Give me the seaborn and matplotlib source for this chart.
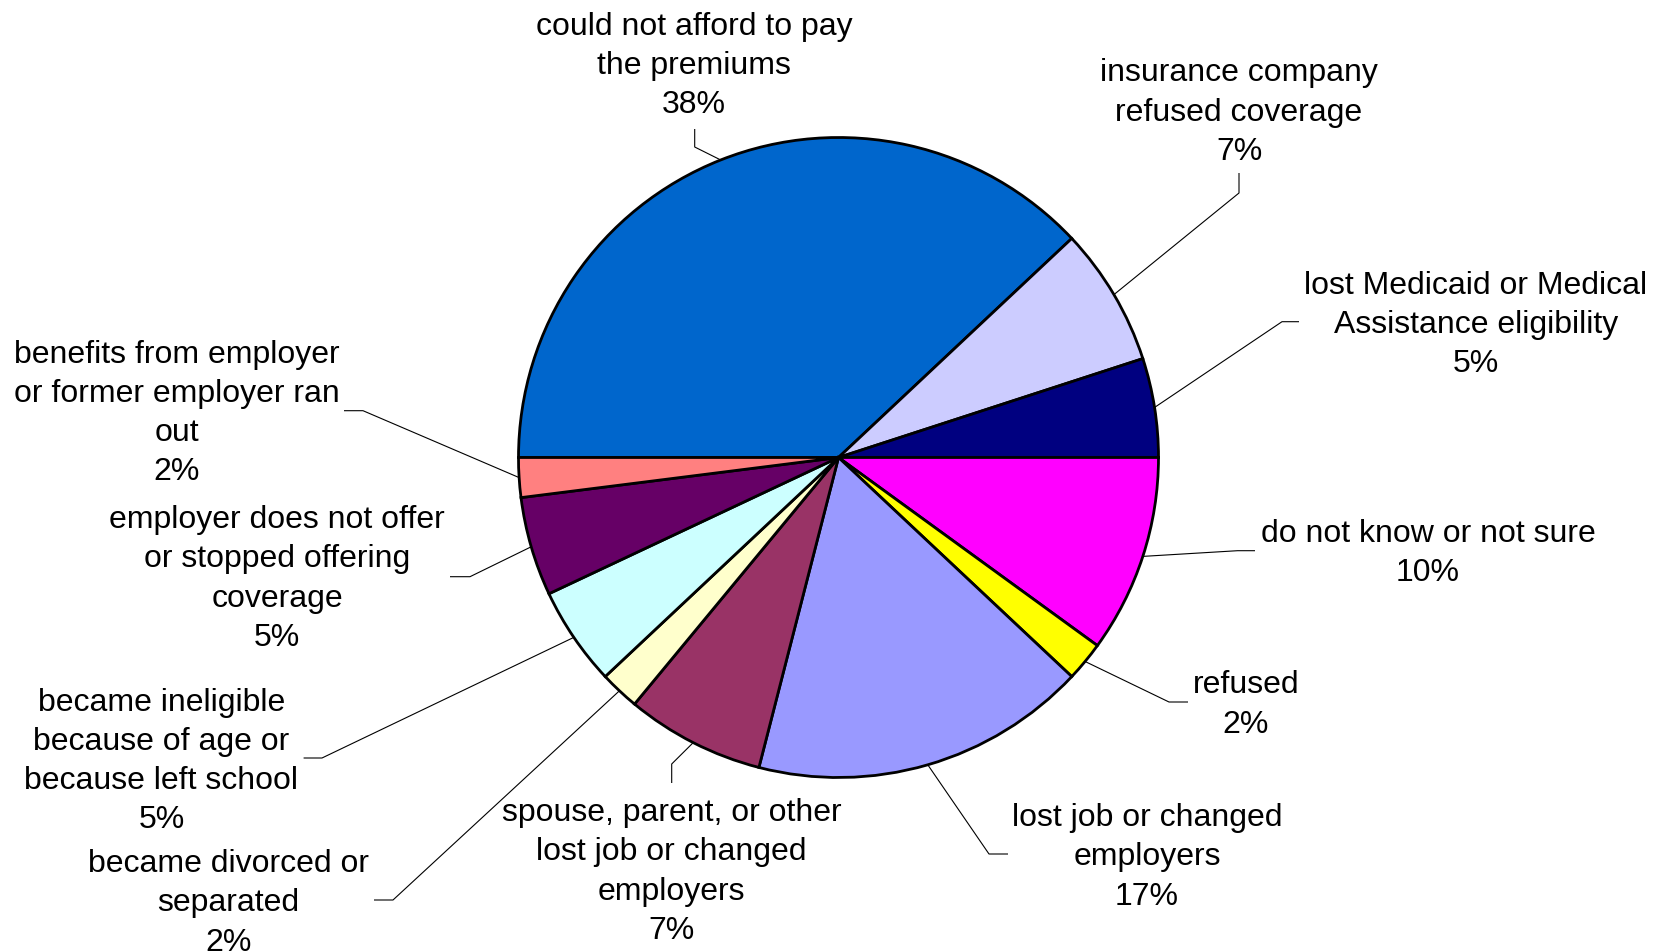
import matplotlib
matplotlib.use("Agg")
import matplotlib.pyplot as plt
import seaborn as sns
import numpy as np

# Reasons for losing health coverage and their shares (percent)
reasons = [
    "could not afford to pay\nthe premiums",
    "insurance company\nrefused coverage",
    "lost Medicaid or Medical\nAssistance eligibility",
    "do not know or not sure",
    "refused",
    "lost job or changed\nemployers",
    "spouse, parent, or other\nlost job or changed\nemployers",
    "became divorced or\nseparated",
    "became ineligible\nbecause of age or\nbecause left school",
    "employer does not offer\nor stopped offering\ncoverage",
    "benefits from employer\nor former employer ran\nout",
]
shares = [38, 7, 5, 10, 2, 17, 7, 2, 5, 5, 2]
slice_colors = [
    "#0066CC", "#CCCCFF", "#000080", "#FF00FF", "#FFFF00", "#9999FF",
    "#993366", "#FFFFCC", "#CCFFFF", "#660066", "#FF8080",
]

# Label layout in pixel space (x, y measured from the top edge)
label_xy = [
    (694, 66), (1239, 112.5), (1476, 325), (1428, 553.5), (1246, 705),
    (1147, 857.5), (671.5, 872), (228.5, 903.5), (161.5, 761.5), (277, 579),
    (176.5, 413.5),
]
# Leader lines: outer end next to the label, then the bend point
leader_end = [
    (694.7, 129), (1239, 173), (1299, 321.7), (1255, 550.7), (1188, 702),
    (1008, 854), (671.7, 783), (374, 900), (303.6, 758), (450, 576.7),
    (344, 410.7),
]
leader_bend = [
    (694.7, 147), (1239, 193), (1282, 321.7), (1237.6, 550.7), (1169, 702),
    (989, 854), (671.7, 764), (393, 900), (322, 758), (470, 576.7),
    (363, 410.7),
]

sns.set_theme(style="white")
plt.rcParams["font.family"] = ["Liberation Sans", "DejaVu Sans"]

W, H = 1653, 952
fig = plt.figure(figsize=(W / 100, H / 100), dpi=100)
fig.patch.set_facecolor("white")
ax = fig.add_axes([0, 0, 1, 1])

cx, cy, R = 838.5, H - 457.5, 320
palette = sns.color_palette(slice_colors)
wedges, _ = ax.pie(
    shares, colors=palette, startangle=180, counterclock=False,
    center=(cx, cy), radius=R,
    wedgeprops=dict(edgecolor="black", linewidth=2.0),
)
ax.set_xlim(0, W)
ax.set_ylim(0, H)
ax.set_aspect("equal")
ax.axis("off")

for w, name, val, (tx, ty), (ex, ey), (bx, by) in zip(
        wedges, reasons, shares, label_xy, leader_end, leader_bend):
    mid = np.deg2rad((w.theta1 + w.theta2) / 2)
    ax_pt = (cx + R * np.cos(mid), cy + R * np.sin(mid))
    ax.plot([ex, bx, ax_pt[0]], [H - ey, H - by, ax_pt[1]],
            color="black", linewidth=0.8, solid_capstyle="butt", zorder=0.5)
    ax.text(tx, H - ty, f"{name}\n{val}%", ha="center", va="center",
            multialignment="center", fontsize=23, linespacing=1.395,
            color="black")

fig.savefig("out.png", dpi=100, facecolor="white")
